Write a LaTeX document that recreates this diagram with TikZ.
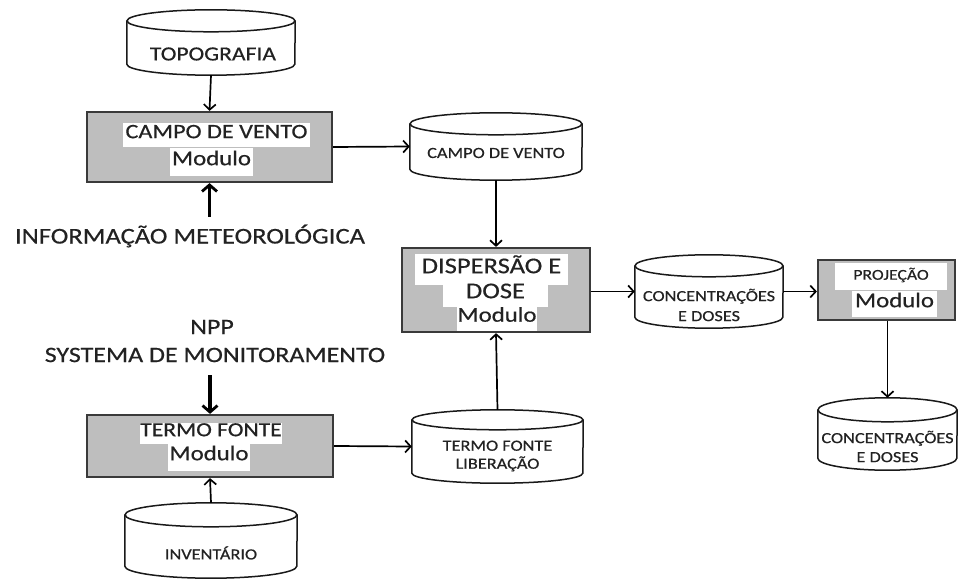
\documentclass[tikz,border=0pt]{standalone}
\usepackage{fontspec}
\setmainfont[FakeStretch=1.18, FakeBold=0.5]{Carlito}
\usetikzlibrary{arrows.meta}
\definecolor{boxgray}{HTML}{BEBEBE}
\definecolor{boxline}{HTML}{3A3A3A}
\definecolor{txt}{HTML}{222222}
\tikzset{
  modbox/.style={draw=boxline, fill=boxgray, line width=2.2pt, inner sep=0pt},
  cylbox/.style={draw=none, inner sep=0pt},
  cylline/.style={draw=black!90, line width=1.5pt, fill=white},
  hl/.style={fill=white, inner sep=0pt, text=txt, text height=0.64em, text depth=0pt},
  plain/.style={inner sep=0pt, text=txt, align=center},
  arr/.style={line width=1.7pt, -{Straight Barb[length=5.5pt,width=12pt,line width=1.7pt]}},
  bigarr/.style={line width=3.2pt, -{Straight Barb[length=6.5pt,width=15pt,line width=2.8pt]}},
}
\newcommand\cylshape[3]{%
  \draw[cylline] ([yshift=-#3]#1.north west) -- ([yshift=#3]#1.south west)
     arc[start angle=180, end angle=360, x radius=#2, y radius=#3]
     -- ([yshift=-#3]#1.north east);
  \draw[cylline] ([yshift=-#3]#1.north) ellipse [x radius=#2, y radius=#3];
}
\begin{document}
\begin{tikzpicture}[x=1pt,y=1pt]
\useasboundingbox (0,0) rectangle (958,579);
\fill[white] (0,0) rectangle (958,579);

% ---------- module boxes
\node[modbox, minimum width=245pt, minimum height=70pt] (campo) at (209.5,432) {};
\node[modbox, minimum width=188pt, minimum height=84pt] (disp) at (496,289) {};
\node[modbox, minimum width=137pt, minimum height=60pt] (proj) at (886.5,289) {};
\node[modbox, minimum width=246pt, minimum height=62pt] (termo) at (210,133) {};

% texts in boxes
\node[hl, font=\fontsize{20.5}{22}\selectfont, minimum width=187pt, minimum height=24pt] (campoa) at (216.5,444) {CAMPO DE VENTO};
\node[hl, font=\fontsize{21}{22}\selectfont, minimum width=83pt, minimum height=28pt] (campob) at (211.5,417) {Modulo};

\node[hl, font=\fontsize{22.5}{24}\selectfont, minimum width=153pt, minimum height=31pt] (dispa) at (491.5,309) {DISPERSÃO E};
\node[hl, font=\fontsize{22.5}{24}\selectfont, minimum width=105pt, minimum height=24pt] (dispb) at (495.5,284) {DOSE};
\node[hl, font=\fontsize{21}{22}\selectfont, minimum width=80pt, minimum height=24pt] (dispc) at (497,260.5) {Modulo};

\node[hl, font=\fontsize{15}{17}\selectfont, minimum width=112pt, minimum height=27pt] (proja) at (891,302.5) {PROJEÇÃO};
\node[hl, font=\fontsize{21}{22}\selectfont, minimum width=85pt, minimum height=26pt] (projb) at (894.5,275) {Modulo};

\node[hl, font=\fontsize{20}{22}\selectfont, minimum width=142pt, minimum height=21pt] (termoa) at (211,146) {TERMO FONTE};
\node[hl, font=\fontsize{21}{22}\selectfont, minimum width=82pt, minimum height=27pt] (termob) at (209,122) {Modulo};

% ---------- cylinders
\node[cylbox, minimum width=168pt, minimum height=65pt] (topo) at (211,536.5) {};
\cylshape{topo}{84pt}{11pt}
\node[plain, font=\fontsize{20}{21}\selectfont] (topot) at (213,525) {TOPOGRAFIA};

\node[cylbox, minimum width=172pt, minimum height=67pt] (cvc) at (496,432.5) {};
\cylshape{cvc}{86pt}{11pt}
\node[plain, font=\fontsize{15.5}{17}\selectfont] (cvct) at (496,426) {CAMPO DE VENTO};

\node[cylbox, minimum width=148pt, minimum height=73pt] (conc) at (709,287.5) {};
\cylshape{conc}{74pt}{11pt}
\node[plain, font=\fontsize{15.5}{20}\selectfont] (conct) at (709,274) {CONCENTRAÇÕES\\E DOSES};

\node[cylbox, minimum width=139pt, minimum height=72pt] (rconc) at (887.5,145) {};
\cylshape{rconc}{69.5pt}{12pt}
\node[plain, font=\fontsize{15.5}{19}\selectfont] (rconct) at (887.5,132.5) {CONCENTRAÇÕES\\E DOSES};

\node[cylbox, minimum width=171pt, minimum height=73pt] (tfl) at (497.5,132.5) {};
\cylshape{tfl}{85.5pt}{10pt}
\node[plain, font=\fontsize{15.5}{18}\selectfont] (tflt) at (497.5,123) {TERMO FONTE\\LIBERAÇÃO};

\node[cylbox, minimum width=172pt, minimum height=75pt] (inv) at (211,38.5) {};
\cylshape{inv}{86pt}{12pt}
\node[plain, font=\fontsize{15.5}{17}\selectfont] (invt) at (211,26) {INVENTÁRIO};

% ---------- free texts
\node[plain, font=\fontsize{22.5}{25}\selectfont] (info) at (190,343) {INFORMAÇÃO METEOROLÓGICA};
\node[plain, font=\fontsize{22}{24}\selectfont] (npp) at (212,252) {NPP};
\node[plain, font=\fontsize{22}{24}\selectfont] (sys) at (215,224) {SYSTEMA DE MONITORAMENTO};
\coordinate (infotop) at (209.5,362);
\coordinate (sysbot) at (210,204);

% ---------- connectors
\draw[arr] (topo.south) -- (campo.north);
\draw[bigarr] (infotop) -- (campo.south);
\draw[arr] (campo.east) -- (cvc.west);
\draw[arr] (cvc.south) -- (disp.north);
\draw[arr] (tfl.north) -- (disp.south);
\draw[arr] (disp.east |- conc.west) -- (conc.west);
\draw[arr] (conc.east) -- (proj.west |- conc.east);
\draw[arr] (proj.south -| rconc.north) -- (rconc.north);
\draw[bigarr] (sysbot) -- (termo.north);
\draw[arr] (termo.east) -- (tfl.west);
\draw[arr] (inv.north) -- (termo.south);
\end{tikzpicture}
\end{document}
